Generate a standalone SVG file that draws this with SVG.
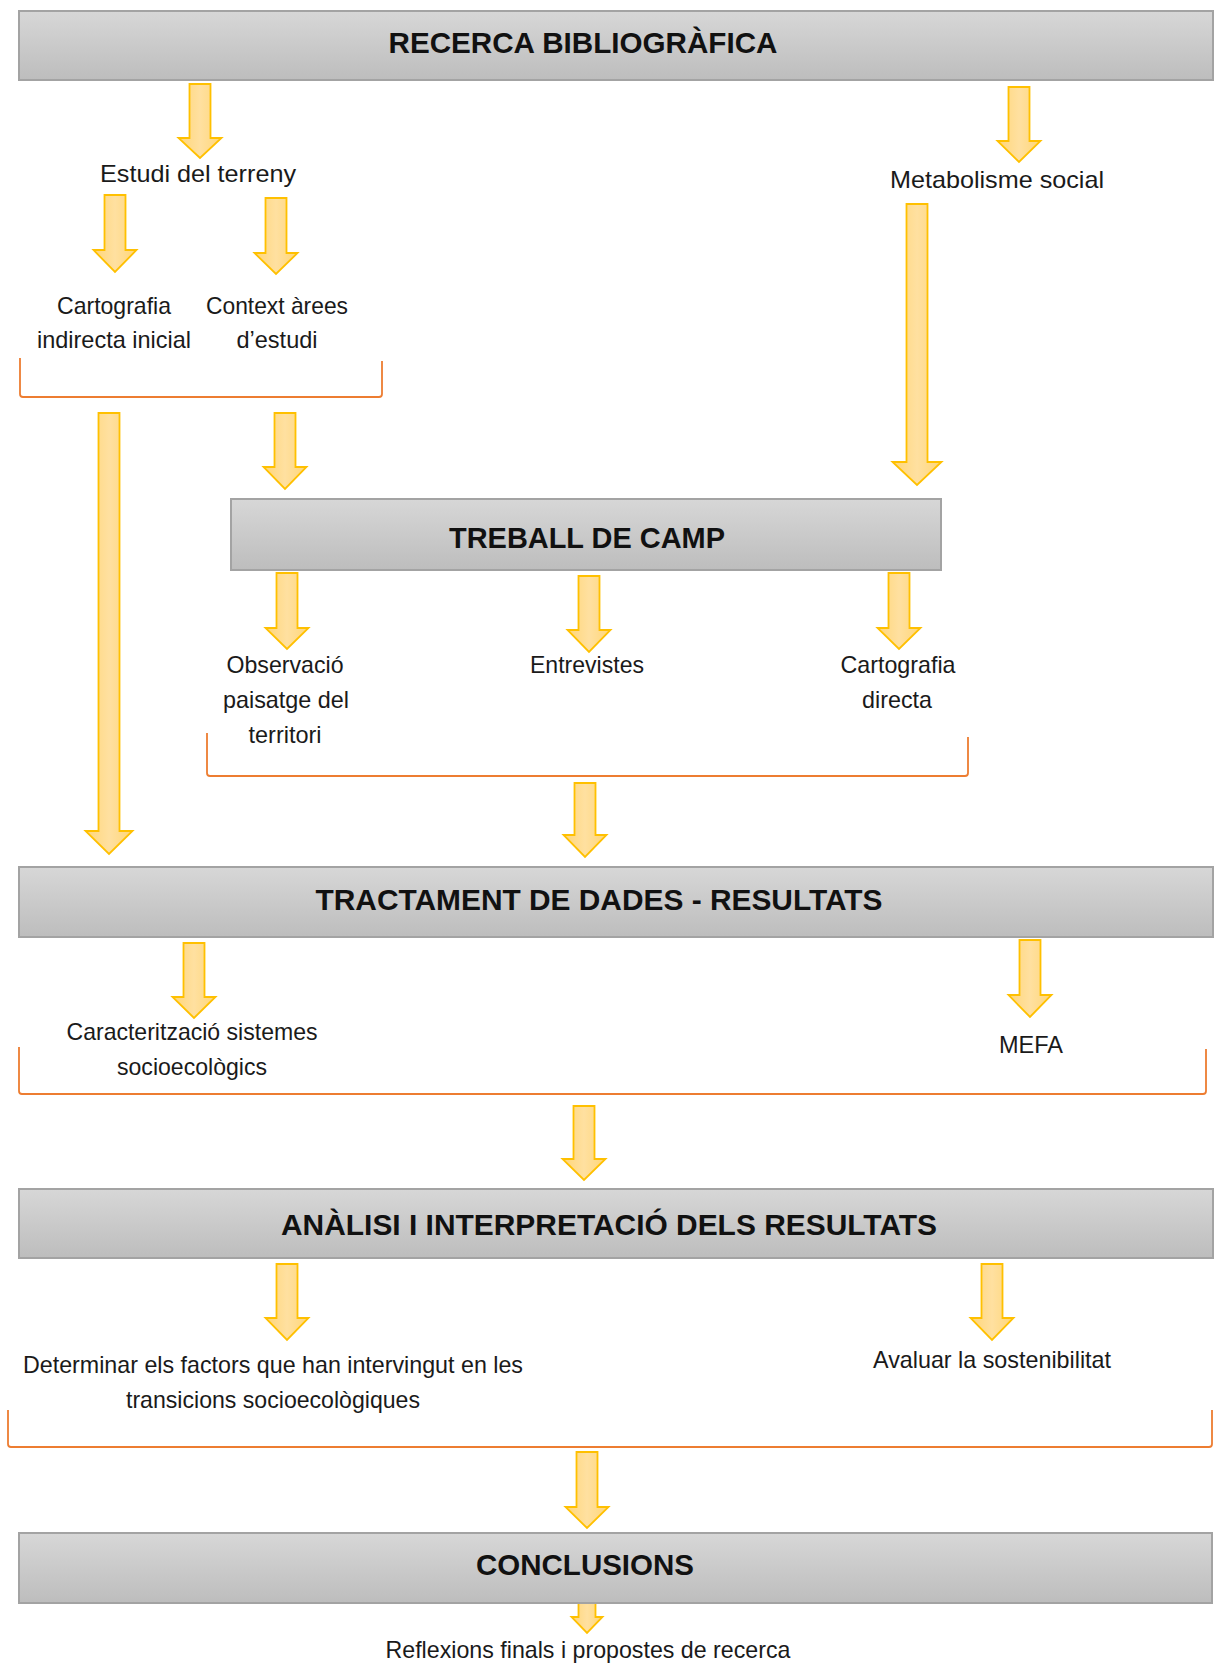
<svg xmlns="http://www.w3.org/2000/svg" width="1214" height="1664" viewBox="0 0 1214 1664">
<defs>
<linearGradient id="boxg" x1="0" y1="0" x2="0" y2="1">
<stop offset="0" stop-color="#D7D7D7"/>
<stop offset="1" stop-color="#BDBDBD"/>
</linearGradient>
<linearGradient id="arrg" x1="0" y1="0" x2="1" y2="0">
<stop offset="0" stop-color="#FFD678"/>
<stop offset="0.5" stop-color="#FFE0A0"/>
<stop offset="1" stop-color="#FFD678"/>
</linearGradient>
</defs>
<style>
.box{fill:url(#boxg);stroke:#A3A3A3;stroke-width:2}
.hd{font-family:"Liberation Sans",Arial,sans-serif;font-weight:bold;font-size:30px;fill:#111;text-anchor:middle}
.tx{font-family:"Liberation Sans",Arial,sans-serif;font-size:24px;fill:#1a1a1a;text-anchor:middle}
.arr{fill:url(#arrg);stroke:#FFC000;stroke-width:1.8;stroke-linejoin:miter}
.brk{fill:none;stroke:#ED7D31;stroke-width:1.8}
</style>
<rect width="1214" height="1664" fill="#FFFFFF"/>

<g id="connectors">
<path class="arr" d="M189.5,84H210.5V138H221.5L200,158L178.5,138H189.5Z"/>
<path class="arr" d="M1008.5,87H1029.5V141H1040.5L1019,162L997.5,141H1008.5Z"/>
<path class="arr" d="M104.5,195H125.5V250H136.5L115,272L93.5,250H104.5Z"/>
<path class="arr" d="M265.5,198H286.5V253H297.5L276,274L254.5,253H265.5Z"/>
<path class="arr" d="M906.5,204H927.5V462H941.5L917,485L892.5,462H906.5Z"/>
<path class="arr" d="M98.5,413H119.5V831H132.5L109,854L85.5,831H98.5Z"/>
<path class="arr" d="M274.5,413H295.5V467H306.5L285,489L263.5,467H274.5Z"/>
<path class="arr" d="M276.5,573H297.5V628H308.5L287,649L265.5,628H276.5Z"/>
<path class="arr" d="M578.5,576H599.5V630H610.5L589,652L567.5,630H578.5Z"/>
<path class="arr" d="M888.5,573H909.5V628H920.5L899,649L877.5,628H888.5Z"/>
<path class="arr" d="M574.5,783H595.5V835H606.5L585,857L563.5,835H574.5Z"/>
<path class="arr" d="M183.5,943H204.5V997H215.5L194,1018L172.5,997H183.5Z"/>
<path class="arr" d="M1019.5,940H1040.5V995H1051.5L1030,1017L1008.5,995H1019.5Z"/>
<path class="arr" d="M573.5,1106H594.5V1159H605.5L584,1180L562.5,1159H573.5Z"/>
<path class="arr" d="M276.5,1264H297.5V1318H308.5L287,1340L265.5,1318H276.5Z"/>
<path class="arr" d="M981.5,1264H1002.5V1318H1013.5L992,1340L970.5,1318H981.5Z"/>
<path class="arr" d="M576.5,1452H597.5V1507H608.5L587,1528L565.5,1507H576.5Z"/>
<path class="arr" d="M578.5,1602H595.5V1617H602.5L587,1633L571.5,1617H578.5Z"/>
</g>

<g id="brackets">
<path class="brk" d="M20,358V394Q20,397 23,397H379Q382,397 382,394V361"/>
<path class="brk" d="M207,733V773Q207,776 210,776H965Q968,776 968,773V737"/>
<path class="brk" d="M19,1047V1091Q19,1094 22,1094H1203Q1206,1094 1206,1091V1049"/>
<path class="brk" d="M8,1410V1444Q8,1447 11,1447H1209Q1212,1447 1212,1444V1410"/>
</g>

<g id="n-recerca">
<rect class="box" x="19" y="11" width="1194" height="69"/>
<text class="hd" x="583" y="53" textLength="389" lengthAdjust="spacingAndGlyphs">RECERCA BIBLIOGRÀFICA</text>
</g>

<g id="n-estudi">
<text class="tx" x="198" y="182" textLength="196" lengthAdjust="spacingAndGlyphs">Estudi del terreny</text>
</g>

<g id="n-metabolisme">
<text class="tx" x="997" y="188" textLength="214" lengthAdjust="spacingAndGlyphs">Metabolisme social</text>
</g>

<g id="n-cartografia-indirecta">
<text class="tx" x="114" y="314" textLength="114" lengthAdjust="spacingAndGlyphs">Cartografia</text>
<text class="tx" x="114" y="348" textLength="154" lengthAdjust="spacingAndGlyphs">indirecta inicial</text>
</g>

<g id="n-context">
<text class="tx" x="277" y="314" textLength="142" lengthAdjust="spacingAndGlyphs">Context àrees</text>
<text class="tx" x="277" y="348" textLength="81" lengthAdjust="spacingAndGlyphs">d’estudi</text>
</g>

<g id="n-treball">
<rect class="box" x="231" y="499" width="710" height="71"/>
<text class="hd" x="587" y="548" font-size="29" textLength="276" lengthAdjust="spacingAndGlyphs">TREBALL DE CAMP</text>
</g>

<g id="n-observacio">
<text class="tx" x="285" y="673" textLength="117" lengthAdjust="spacingAndGlyphs">Observació</text>
<text class="tx" x="286" y="708" textLength="126" lengthAdjust="spacingAndGlyphs">paisatge del</text>
<text class="tx" x="285" y="743" textLength="73" lengthAdjust="spacingAndGlyphs">territori</text>
</g>

<g id="n-entrevistes">
<text class="tx" x="587" y="673" textLength="114" lengthAdjust="spacingAndGlyphs">Entrevistes</text>
</g>

<g id="n-cartografia-directa">
<text class="tx" x="898" y="673" textLength="115" lengthAdjust="spacingAndGlyphs">Cartografia</text>
<text class="tx" x="897" y="708" textLength="70" lengthAdjust="spacingAndGlyphs">directa</text>
</g>

<g id="n-tractament">
<rect class="box" x="19" y="867" width="1194" height="70"/>
<text class="hd" x="599" y="910" textLength="567" lengthAdjust="spacingAndGlyphs">TRACTAMENT DE DADES - RESULTATS</text>
</g>

<g id="n-caracteritzacio">
<text class="tx" x="192" y="1040" textLength="251" lengthAdjust="spacingAndGlyphs">Caracterització sistemes</text>
<text class="tx" x="192" y="1075" textLength="150" lengthAdjust="spacingAndGlyphs">socioecològics</text>
</g>

<g id="n-mefa">
<text class="tx" x="1031" y="1053" textLength="64" lengthAdjust="spacingAndGlyphs">MEFA</text>
</g>

<g id="n-analisi">
<rect class="box" x="19" y="1189" width="1194" height="69"/>
<text class="hd" x="609" y="1235" textLength="656" lengthAdjust="spacingAndGlyphs">ANÀLISI I INTERPRETACIÓ DELS RESULTATS</text>
</g>

<g id="n-determinar">
<text class="tx" x="273" y="1373" textLength="500" lengthAdjust="spacingAndGlyphs">Determinar els factors que han intervingut en les</text>
<text class="tx" x="273" y="1408" textLength="294" lengthAdjust="spacingAndGlyphs">transicions socioecològiques</text>
</g>

<g id="n-avaluar">
<text class="tx" x="992" y="1368" textLength="238" lengthAdjust="spacingAndGlyphs">Avaluar la sostenibilitat</text>
</g>

<g id="n-conclusions">
<rect class="box" x="19" y="1533" width="1193" height="70"/>
<text class="hd" x="585" y="1575" textLength="218" lengthAdjust="spacingAndGlyphs">CONCLUSIONS</text>
</g>

<g id="n-reflexions">
<text class="tx" x="588" y="1658" textLength="405" lengthAdjust="spacingAndGlyphs">Reflexions finals i propostes de recerca</text>
</g>
</svg>
